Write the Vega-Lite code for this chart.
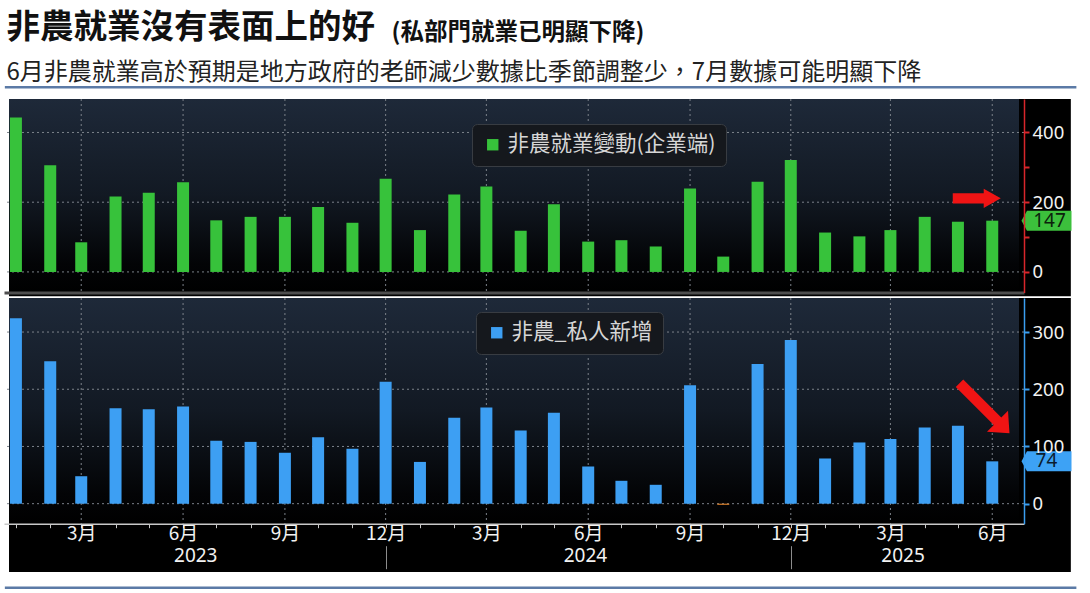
{
  "$schema": "https://vega.github.io/schema/vega-lite/v6.json",
  "background": "white",
  "padding": {"left": 3, "top": 10, "right": 4, "bottom": 2},
  "title": {
    "text": "非農就業沒有表面上的好",
    "subtitle": "6月非農就業高於預期是地方政府的老師減少數據比季節調整少，7月數據可能明顯下降",
    "anchor": "start",
    "font": "Noto Sans CJK TC",
    "fontSize": 33.5,
    "fontWeight": "bold",
    "color": "#111111",
    "subtitleFont": "Noto Sans CJK TC",
    "subtitleFontSize": 24,
    "subtitleColor": "#222222",
    "subtitlePadding": 16,
    "offset": -65,
    "dx": 3
  },
  "datasets": {
    "nfp": [
      {"date": "2023-01-01", "value": 443}, {"date": "2023-02-01", "value": 306}, {"date": "2023-03-01", "value": 85},
      {"date": "2023-04-01", "value": 216}, {"date": "2023-05-01", "value": 227}, {"date": "2023-06-01", "value": 257},
      {"date": "2023-07-01", "value": 148}, {"date": "2023-08-01", "value": 158}, {"date": "2023-09-01", "value": 158},
      {"date": "2023-10-01", "value": 186}, {"date": "2023-11-01", "value": 141}, {"date": "2023-12-01", "value": 267},
      {"date": "2024-01-01", "value": 120}, {"date": "2024-02-01", "value": 222}, {"date": "2024-03-01", "value": 245},
      {"date": "2024-04-01", "value": 118}, {"date": "2024-05-01", "value": 194}, {"date": "2024-06-01", "value": 87},
      {"date": "2024-07-01", "value": 91}, {"date": "2024-08-01", "value": 73}, {"date": "2024-09-01", "value": 239},
      {"date": "2024-10-01", "value": 44}, {"date": "2024-11-01", "value": 259}, {"date": "2024-12-01", "value": 321},
      {"date": "2025-01-01", "value": 113}, {"date": "2025-02-01", "value": 102}, {"date": "2025-03-01", "value": 120},
      {"date": "2025-04-01", "value": 158}, {"date": "2025-05-01", "value": 144}, {"date": "2025-06-01", "value": 147}
    ],
    "pvt": [
      {"date": "2023-01-01", "value": 324}, {"date": "2023-02-01", "value": 249}, {"date": "2023-03-01", "value": 48},
      {"date": "2023-04-01", "value": 167}, {"date": "2023-05-01", "value": 165}, {"date": "2023-06-01", "value": 170},
      {"date": "2023-07-01", "value": 110}, {"date": "2023-08-01", "value": 108}, {"date": "2023-09-01", "value": 89},
      {"date": "2023-10-01", "value": 116}, {"date": "2023-11-01", "value": 96}, {"date": "2023-12-01", "value": 213},
      {"date": "2024-01-01", "value": 73}, {"date": "2024-02-01", "value": 150}, {"date": "2024-03-01", "value": 168},
      {"date": "2024-04-01", "value": 128}, {"date": "2024-05-01", "value": 159}, {"date": "2024-06-01", "value": 65},
      {"date": "2024-07-01", "value": 40}, {"date": "2024-08-01", "value": 33}, {"date": "2024-09-01", "value": 207},
      {"date": "2024-10-01", "value": -2}, {"date": "2024-11-01", "value": 244}, {"date": "2024-12-01", "value": 286},
      {"date": "2025-01-01", "value": 79}, {"date": "2025-02-01", "value": 107}, {"date": "2025-03-01", "value": 113},
      {"date": "2025-04-01", "value": 133}, {"date": "2025-05-01", "value": 136}, {"date": "2025-06-01", "value": 74}
    ],
    "qtr": [
      {"date": "2023-03-01"}, {"date": "2023-06-01"}, {"date": "2023-09-01"}, {"date": "2023-12-01"},
      {"date": "2024-03-01"}, {"date": "2024-06-01"}, {"date": "2024-09-01"}, {"date": "2024-12-01"},
      {"date": "2025-03-01"}, {"date": "2025-06-01"}
    ],
    "hgrid1": [{"value": 0}, {"value": 200}, {"value": 400}],
    "hgrid2": [{"value": 0}, {"value": 100}, {"value": 200}, {"value": 300}],
    "tag1": [{"date": "2025-07-20", "value": 147, "label": "147"}],
    "tag2": [{"date": "2025-07-20", "value": 74, "label": "74"}],
    "arrow1": [{"date": "2025-05-18", "value": 211}],
    "arrow2": [{"date": "2025-05-25", "value": 167}]
  },
  "spacing": 0,
  "resolve": {
    "scale": {"x": "shared", "y": "independent", "color": "independent"},
    "axis": {"x": "independent", "y": "independent"},
    "legend": {"color": "independent"}
  },
  "vconcat": [
    {
      "width": 1020,
      "height": 193.5,
      "title": {
        "text": "(私部門就業已明顯下降)",
        "anchor": "start",
        "dx": 388,
        "dy": -37,
        "font": "Noto Sans CJK TC",
        "fontSize": 23.5,
        "fontWeight": "bold",
        "color": "#111111"
      },
      "layer": [
        {
          "data": {"values": [{}]},
          "mark": {"type": "rect", "fill": "#000000", "strokeWidth": 0},
          "encoding": {
            "x": {"datum": {"year": 2022, "month": 12, "date": 25, "hours": 18, "utc": true}, "type": "temporal"},
            "x2": {"datum": {"year": 2025, "month": 8, "date": 11, "utc": true}},
            "y": {"datum": 496, "type": "quantitative"},
            "y2": {"datum": -70}
          }
        },
        {
          "data": {"values": [{}]},
          "mark": {
            "type": "rect",
            "strokeWidth": 0,
            "fill": {
              "gradient": "linear", "x1": 0, "y1": 0, "x2": 0, "y2": 1,
              "stops": [
                {"offset": 0, "color": "#1e2939"},
                {"offset": 0.5, "color": "#121923"},
                {"offset": 0.85, "color": "#030406"},
                {"offset": 1, "color": "#000000"}
              ]
            }
          },
          "encoding": {
            "x": {"datum": {"year": 2022, "month": 12, "date": 25, "hours": 18, "utc": true}, "type": "temporal"},
            "x2": {"datum": {"year": 2025, "month": 6, "date": 25, "hours": 4, "utc": true}},
            "y": {"datum": 496, "type": "quantitative"},
            "y2": {"datum": -59}
          }
        },
        {
          "data": {"values": [{}]},
          "mark": {"type": "rule", "color": "#5b7aa6", "strokeWidth": 2.5},
          "encoding": {
            "x": {"datum": {"year": 2022, "month": 12, "date": 22, "utc": true}, "type": "temporal"},
            "x2": {"datum": {"year": 2025, "month": 8, "date": 16, "utc": true}},
            "y": {"datum": 530, "type": "quantitative"}
          }
        },
        {
          "data": {"name": "hgrid1"},
          "mark": {"type": "rule", "color": "#7c828a", "strokeDash": [2, 3], "strokeWidth": 1},
          "encoding": {"y": {"field": "value", "type": "quantitative"}}
        },
        {
          "data": {"name": "qtr"},
          "mark": {"type": "rule", "color": "#7c828a", "strokeDash": [2, 3], "strokeWidth": 1},
          "encoding": {"x": {"field": "date", "type": "temporal"}}
        },
        {
          "data": {"name": "nfp"},
          "mark": {"type": "bar", "size": 12},
          "encoding": {
            "x": {
              "field": "date", "type": "temporal",
              "scale": {"type": "utc", "domain": [{"year": 2022, "month": 12, "date": 25, "hours": 18, "utc": true}, {"year": 2025, "month": 6, "date": 25, "hours": 4, "utc": true}]},
              "axis": {"orient": "bottom", "labels": false, "ticks": false, "domain": true, "domainColor": "#4e4e4e", "domainWidth": 3, "grid": false, "title": null, "zindex": 1}
            },
            "y": {
              "field": "value", "type": "quantitative",
              "scale": {"domain": [-59, 496], "nice": false},
              "axis": {
                "orient": "right", "values": [0, 100, 200, 300, 400],
                "labelExpr": "datum.value % 200 == 0 ? datum.label : ''",
                "grid": false, "title": null,
                "domainColor": "#d9262b", "domainWidth": 1.5,
                "tickColor": "#d9262b", "tickSize": 5, "tickWidth": 2,
                "labelColor": "#f2f2f2", "labelFontSize": 18.5, "labelFont": "Noto Sans", "labelPadding": 3,
                "zindex": 1
              }
            },
            "color": {
              "datum": "非農就業變動(企業端)", "type": "nominal",
              "scale": {"range": ["#37c23b"]},
              "legend": {
                "orient": "none", "legendX": 468, "legendY": 25, "title": null,
                "fillColor": "#15181d", "strokeColor": "#383c42", "cornerRadius": 5, "padding": 10,
                "labelColor": "#d6d6d6", "labelFontSize": 21.5, "labelFont": "Noto Sans CJK TC", "labelLimit": 500,
                "symbolType": "square", "symbolSize": 130, "symbolStrokeWidth": 0, "labelOffset": 4
              }
            }
          }
        },
        {
          "data": {"name": "arrow1"},
          "mark": {"type": "point", "filled": true, "color": "#f01414", "opacity": 1, "size": 2304, "strokeWidth": 0,
                   "shape": "M-1,-0.21L0.29,-0.21L0.29,-0.4L1,0L0.29,0.4L0.29,0.21L-1,0.21Z"},
          "encoding": {"x": {"field": "date", "type": "temporal"}, "y": {"field": "value", "type": "quantitative"}}
        },
        {
          "data": {"name": "tag1"},
          "mark": {"type": "point", "filled": true, "color": "#3cc03c", "opacity": 1, "size": 2500, "strokeWidth": 0,
                   "shape": "M-1,0L-0.78,-0.4L1,-0.4L1,0.4L-0.78,0.4Z"},
          "encoding": {"x": {"field": "date", "type": "temporal"}, "y": {"field": "value", "type": "quantitative"}}
        },
        {
          "data": {"name": "tag1"},
          "mark": {"type": "text", "color": "#0c220c", "fontSize": 19, "font": "Noto Sans", "align": "center", "baseline": "middle", "dx": 3},
          "encoding": {"x": {"field": "date", "type": "temporal"}, "y": {"field": "value", "type": "quantitative"}, "text": {"field": "label"}}
        }
      ]
    },
    {
      "width": 1020,
      "height": 225.7,
      "resolve": {"axis": {"x": "independent"}},
      "layer": [
        {
          "data": {"values": [{}]},
          "mark": {"type": "rect", "fill": "#000000", "strokeWidth": 0},
          "encoding": {
            "x": {"datum": {"year": 2022, "month": 12, "date": 25, "hours": 18, "utc": true}, "type": "temporal", "axis": null},
            "x2": {"datum": {"year": 2025, "month": 8, "date": 11, "utc": true}},
            "y": {"datum": 359.5, "type": "quantitative"},
            "y2": {"datum": -119.3}
          }
        },
        {
          "data": {"values": [{}]},
          "mark": {
            "type": "rect",
            "strokeWidth": 0,
            "fill": {
              "gradient": "linear", "x1": 0, "y1": 0, "x2": 0, "y2": 1,
              "stops": [
                {"offset": 0, "color": "#1e2939"},
                {"offset": 0.5, "color": "#121923"},
                {"offset": 0.87, "color": "#030406"},
                {"offset": 1, "color": "#000000"}
              ]
            }
          },
          "encoding": {
            "x": {"datum": {"year": 2022, "month": 12, "date": 25, "hours": 18, "utc": true}, "type": "temporal", "axis": null},
            "x2": {"datum": {"year": 2025, "month": 6, "date": 25, "hours": 4, "utc": true}},
            "y": {"datum": 359.5, "type": "quantitative"},
            "y2": {"datum": -35}
          }
        },
        {
          "data": {"values": [{}]},
          "mark": {"type": "rule", "color": "#5b7aa6", "strokeWidth": 2.5},
          "encoding": {
            "x": {"datum": {"year": 2022, "month": 12, "date": 22, "utc": true}, "type": "temporal", "axis": null},
            "x2": {"datum": {"year": 2025, "month": 8, "date": 16, "utc": true}},
            "y": {"datum": -147, "type": "quantitative"}
          }
        },
        {
          "data": {"name": "hgrid2"},
          "mark": {"type": "rule", "color": "#7c828a", "strokeDash": [2, 3], "strokeWidth": 1},
          "encoding": {"y": {"field": "value", "type": "quantitative"}}
        },
        {
          "data": {"name": "qtr"},
          "mark": {"type": "rule", "color": "#7c828a", "strokeDash": [2, 3], "strokeWidth": 1},
          "encoding": {
            "x": {
              "field": "date", "type": "temporal",
              "axis": {
                "orient": "bottom", "offset": 22,
                "values": [
                  {"year": 2023, "month": 6, "date": 12, "utc": true},
                  {"year": 2023, "month": 12, "date": 1, "utc": true},
                  {"year": 2024, "month": 5, "date": 29, "utc": true},
                  {"year": 2024, "month": 12, "date": 1, "utc": true},
                  {"year": 2025, "month": 3, "date": 12, "utc": true}
                ],
                "labelExpr": "utcmonth(datum.value) == 11 ? '' : utcyear(datum.value) + ''",
                "tickOpacity": {"condition": {"test": "utcmonth(datum.value) == 11", "value": 1}, "value": 0},
                "tickSize": 23, "tickColor": "#8c8c8c", "tickWidth": 1,
                "domain": false, "grid": false, "title": null,
                "labelPadding": -22, "labelColor": "#f2f2f2", "labelFontSize": 19, "labelFont": "Noto Sans",
                "labelOverlap": false, "labelFlush": false, "labelBound": false, "zindex": 1
              }
            }
          }
        },
        {
          "data": {"name": "pvt"},
          "transform": [{"filter": "datum.value >= 0"}],
          "mark": {"type": "bar", "size": 12},
          "encoding": {
            "x": {
              "field": "date", "type": "temporal",
              "axis": {
                "orient": "bottom",
                "tickCount": {"interval": "month", "step": 1},
                "labelExpr": "utcmonth(datum.value) % 3 == 2 ? (utcmonth(datum.value) + 1) + '月' : ''",
                "labelOverlap": false, "labelFlush": false, "labelBound": false,
                "grid": false, "title": null,
                "domainColor": "#c8c8c8", "domainWidth": 1.5,
                "tickColor": "#c8c8c8", "tickSize": 4,
                "labelColor": "#f2f2f2", "labelFontSize": 19, "labelFont": "Noto Sans CJK TC", "labelPadding": -3,
                "zindex": 1
              }
            },
            "y": {
              "field": "value", "type": "quantitative",
              "scale": {"domain": [-35, 359.5], "nice": false},
              "axis": {
                "orient": "right", "values": [0, 50, 100, 150, 200, 250, 300, 350],
                "labelExpr": "datum.value % 100 == 0 ? datum.label : ''",
                "grid": false, "title": null,
                "domainColor": "#3a9ef0", "domainWidth": 1.5,
                "tickColor": "#3a9ef0", "tickSize": 5, "tickWidth": 2,
                "labelColor": "#f2f2f2", "labelFontSize": 18.5, "labelFont": "Noto Sans", "labelPadding": 3,
                "zindex": 1
              }
            },
            "color": {
              "datum": "非農_私人新增", "type": "nominal",
              "scale": {"range": ["#3d9ff3"]},
              "legend": {
                "orient": "none", "legendX": 472, "legendY": 14, "title": null,
                "fillColor": "#15181d", "strokeColor": "#383c42", "cornerRadius": 5, "padding": 10,
                "labelColor": "#d6d6d6", "labelFontSize": 21.5, "labelFont": "Noto Sans CJK TC", "labelLimit": 500,
                "symbolType": "square", "symbolSize": 130, "symbolStrokeWidth": 0, "labelOffset": 4
              }
            }
          }
        },
        {
          "data": {"name": "pvt"},
          "transform": [{"filter": "datum.value < 0"}],
          "mark": {"type": "bar", "size": 12, "color": "#e0822a"},
          "encoding": {
            "x": {"field": "date", "type": "temporal", "axis": null},
            "y": {"field": "value", "type": "quantitative"}
          }
        },
        {
          "data": {"name": "arrow2"},
          "mark": {"type": "point", "filled": true, "color": "#f01414", "opacity": 1, "size": 5000, "strokeWidth": 0, "angle": 45,
                   "shape": "M-1,-0.15L0.52,-0.15L0.52,-0.42L1,0L0.52,0.42L0.52,0.15L-1,0.15Z"},
          "encoding": {"x": {"field": "date", "type": "temporal", "axis": null}, "y": {"field": "value", "type": "quantitative"}}
        },
        {
          "data": {"name": "tag2"},
          "mark": {"type": "point", "filled": true, "color": "#3da2f5", "opacity": 1, "size": 2500, "strokeWidth": 0,
                   "shape": "M-1,0L-0.78,-0.4L1,-0.4L1,0.4L-0.78,0.4Z"},
          "encoding": {"x": {"field": "date", "type": "temporal", "axis": null}, "y": {"field": "value", "type": "quantitative"}}
        },
        {
          "data": {"name": "tag2"},
          "mark": {"type": "text", "color": "#0b1c2e", "fontSize": 19, "font": "Noto Sans", "align": "center", "baseline": "middle", "dx": 0},
          "encoding": {"x": {"field": "date", "type": "temporal", "axis": null}, "y": {"field": "value", "type": "quantitative"}, "text": {"field": "label"}}
        }
      ]
    }
  ],
  "config": {
    "view": {"stroke": null},
    "font": "Noto Sans CJK TC"
  }
}
